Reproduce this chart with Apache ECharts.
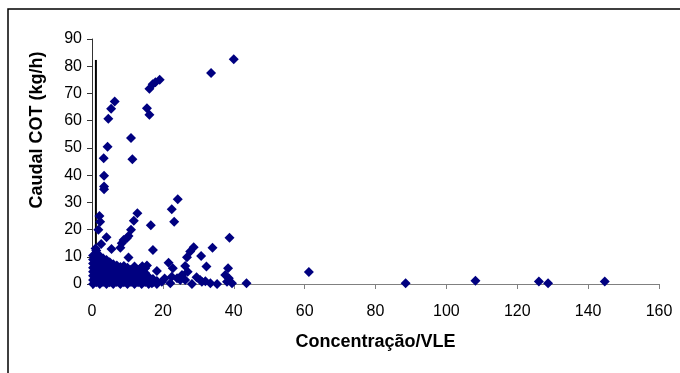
<!DOCTYPE html>
<html>
<head>
<meta charset="utf-8">
<script src="https://cdn.jsdelivr.net/npm/echarts/dist/echarts.min.js"></script>
<style>
  html, body { margin: 0; padding: 0; background: #fff; }
  #chart { width: 680px; height: 373px; }
</style>
</head>
<body>
<div id="chart"></div>
<script>
// eixos
const X_TICKS = [0, 20, 40, 60, 80, 100, 120, 140, 160]
const Y_TICKS = [0, 10, 20, 30, 40, 50, 60, 70, 80, 90]

// pontos altos
const upperPoints = [
  [40.0, 82.6], [33.6, 77.5], [19.1, 75.0], [17.9, 74.1], [17.1, 73.4], [16.2, 71.7],
  [15.5, 64.6], [16.2, 62.2], [6.4, 67.0], [5.4, 64.4], [4.6, 60.7], [11.0, 53.6],
  [4.4, 50.4], [3.3, 46.2], [11.4, 45.8], [3.4, 39.8], [3.4, 35.8], [3.4, 34.8]
]

// pontos intermedios
const midPoints = [
  [24.2, 31.1], [22.5, 27.5], [23.2, 22.9], [12.8, 26.0], [11.8, 23.2], [2.1, 25.0],
  [2.3, 22.9], [1.8, 19.9], [16.6, 21.6], [11.0, 19.9], [10.3, 17.6], [9.8, 16.8],
  [38.8, 17.0], [4.1, 17.2], [2.6, 14.7], [5.5, 12.9], [8.0, 13.3], [8.4, 15.0],
  [8.9, 16.2], [17.2, 12.5], [28.7, 13.5], [27.7, 11.9], [26.8, 9.8], [34.0, 13.3],
  [30.8, 10.3], [32.3, 6.4], [21.6, 7.8], [22.8, 5.8], [10.3, 9.7], [26.3, 6.6],
  [38.4, 5.8], [18.3, 4.8], [1.4, 11.3], [1.0, 13.0], [13.5, 5.5], [14.2, 6.5],
  [15.5, 6.8], [13.0, 3.0], [15.0, 4.0]
]

// pontos baixos fora do aglomerado
const lowPoints = [
  [16.9, 0.3], [19.7, 0.8], [22.1, 0.3], [24.9, 1.5], [28.2, 0.0], [31.0, 0.8],
  [33.4, 0.3], [35.3, 0.0], [38.1, 0.8], [39.5, 0.3], [43.6, 0.3], [25.4, 3.3],
  [24.0, 2.1], [26.3, 1.5], [30.5, 1.5], [32.0, 1.0], [37.6, 3.3], [38.6, 2.1],
  [22.5, 2.7], [27.0, 4.5], [20.5, 2.0], [29.5, 2.5]
]

// valores afastados
const farPoints = [
  [61.2, 4.4], [88.5, 0.3], [108.2, 1.2], [126.1, 0.9], [128.7, 0.3], [144.7, 0.9]
]

// aglomerado denso junto a origem
const clusterPoints = [
  [0.3, 0.0], [0.3, 1.5], [0.3, 3.0], [0.3, 4.5], [0.3, 6.0], [0.3, 7.5], [0.3, 9.0], [0.3, 10.5],
  [1.2, 0.6], [1.2, 2.1], [1.2, 3.6], [1.2, 5.1], [1.2, 6.6], [1.2, 8.1], [1.2, 9.6], [1.2, 11.2], [1.2, 12.3],
  [2.2, 0.0], [2.2, 1.4], [2.2, 2.9], [2.2, 4.4], [2.2, 5.9], [2.2, 7.4], [2.2, 8.9], [2.2, 10.2],
  [3.1, 0.7], [3.1, 2.2], [3.1, 3.7], [3.1, 5.2], [3.1, 6.7], [3.1, 8.2], [3.1, 9.5],
  [4.1, 0.0], [4.1, 1.5], [4.1, 3.0], [4.1, 4.5], [4.1, 6.0], [4.1, 7.5], [4.1, 8.8],
  [5.0, 0.6], [5.0, 2.1], [5.0, 3.6], [5.0, 5.1], [5.0, 6.6], [5.0, 8.0],
  [6.0, 0.0], [6.0, 1.4], [6.0, 2.9], [6.0, 4.4], [6.0, 5.9], [6.0, 7.3],
  [7.0, 0.7], [7.0, 2.2], [7.0, 3.7], [7.0, 5.2], [7.0, 6.8],
  [8.0, 0.0], [8.0, 1.5], [8.0, 3.0], [8.0, 4.5], [8.0, 6.2],
  [9.0, 0.6], [9.0, 2.1], [9.0, 3.6], [9.0, 5.3], [9.0, 6.6],
  [10.0, 0.0], [10.0, 1.4], [10.0, 2.9], [10.0, 4.6], [10.0, 6.0],
  [11.0, 0.7], [11.0, 2.2], [11.0, 3.7], [11.0, 5.2],
  [12.0, 0.0], [12.0, 1.5], [12.0, 3.0], [12.0, 4.4], [12.0, 6.4],
  [13.0, 0.6], [13.0, 2.1], [13.0, 3.6],
  [14.0, 0.0], [14.0, 1.4], [14.0, 2.8], [14.0, 4.8],
  [15.0, 0.7], [15.0, 2.0], [15.0, 3.5], [15.0, 5.8],
  [16.0, 0.0], [16.0, 1.3], [16.0, 2.6],
  [17.2, 0.6], [17.2, 1.8],
  [18.3, 0.0], [18.3, 1.1]
]

// linha vertical preta junto ao eixo
const verticalLine = [[1.1, 0], [1.1, 82.3]]

const MARKER_COLOR = '#000080'
const FONT = '"Liberation Sans", Arial, sans-serif'

const chart = echarts.init(document.getElementById('chart'))

const scatter = (data) => ({
  type: 'scatter',
  data,
  symbol: 'diamond',
  symbolSize: 10,
  itemStyle: { color: MARKER_COLOR, opacity: 1 },
  silent: true
})

chart.setOption({
  animation: false,
  grid: { left: 92, right: 21, top: 39, bottom: 89 },
  xAxis: {
    type: 'value',
    min: X_TICKS[0],
    max: X_TICKS[X_TICKS.length - 1],
    interval: X_TICKS[1] - X_TICKS[0],
    name: 'Concentração/VLE',
    nameLocation: 'middle',
    nameGap: 49,
    nameTextStyle: { color: '#000', fontFamily: FONT, fontSize: 18, fontWeight: 'bold' },
    axisLine: { onZero: false, lineStyle: { color: '#808080', width: 1 } },
    axisTick: { show: true, inside: false, length: 5, lineStyle: { color: '#808080' } },
    axisLabel: { color: '#000', fontFamily: FONT, fontSize: 16, margin: 20 },
    splitLine: { show: false }
  },
  yAxis: {
    type: 'value',
    min: Y_TICKS[0],
    max: Y_TICKS[Y_TICKS.length - 1],
    interval: Y_TICKS[1] - Y_TICKS[0],
    axisLine: { show: true, onZero: false, lineStyle: { color: '#333', width: 1 } },
    axisTick: { show: true, inside: false, length: 5, lineStyle: { color: '#333' } },
    axisLabel: { color: '#000', fontFamily: FONT, fontSize: 16, margin: 10 },
    splitLine: { show: false }
  },
  graphic: [
    {
      type: 'rect',
      shape: { x: 8, y: 9, width: 700, height: 400 },
      style: { fill: 'none', stroke: '#000', lineWidth: 1.5 },
      silent: true
    },
    {
      type: 'text',
      x: 37,
      y: 130,
      rotation: Math.PI / 2,
      style: {
        text: 'Caudal COT (kg/h)',
        fill: '#000',
        font: 'bold 18px ' + FONT,
        align: 'center',
        verticalAlign: 'middle'
      }
    }
  ],
  series: [
    {
      type: 'line',
      data: verticalLine,
      symbol: 'none',
      lineStyle: { color: '#000', width: 2 },
      silent: true,
      z: 1
    },
    scatter(clusterPoints),
    scatter(lowPoints),
    scatter(midPoints),
    scatter(upperPoints),
    scatter(farPoints)
  ]
})
</script>
</body>
</html>
